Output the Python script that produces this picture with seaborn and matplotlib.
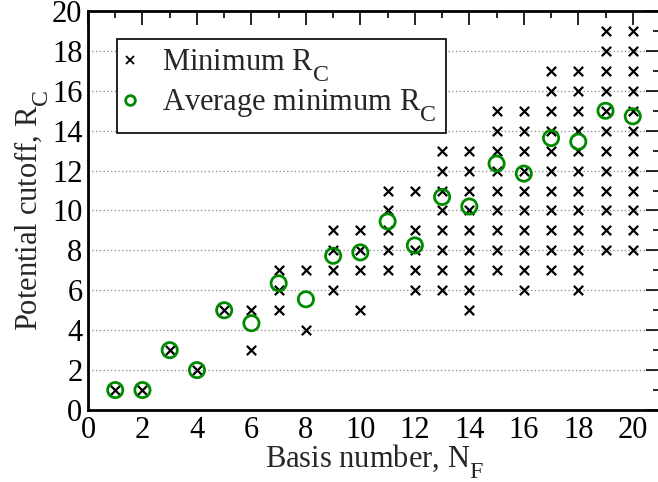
import matplotlib
matplotlib.use("Agg")
import matplotlib.pyplot as plt
import matplotlib._mathtext as _mt
import seaborn as sns
import pandas as pd
from matplotlib.ticker import MultipleLocator
from matplotlib.lines import Line2D

# Data
basis_n = list(range(1, 21))
min_rc = [
    [1], [1], [3], [2], [5],
    [3, 5], [5, 6, 7], [4, 7], [6, 7, 8, 9], [5, 7, 8, 9],
    [7, 8, 9, 10, 11], [6, 7, 8, 9, 11], [6, 7, 8, 9, 10, 11, 12, 13],
    [5, 6, 7, 8, 9, 10, 11, 12, 13], [7, 8, 9, 10, 11, 12, 13, 14, 15],
    [6, 7, 8, 9, 10, 11, 12, 13, 14, 15], [7, 8, 9, 10, 11, 12, 13, 14, 15, 16, 17],
    [6, 7, 8, 9, 10, 11, 12, 13, 14, 15, 16, 17],
    [8, 9, 10, 11, 12, 13, 14, 15, 16, 17, 18, 19],
    [8, 9, 10, 11, 12, 13, 14, 15, 16, 17, 18, 19],
]
avg_rc = [1.0, 1.0, 3.0, 2.0, 5.0, 4.35, 6.35, 5.55, 7.73, 7.9,
          9.45, 8.25, 10.68, 10.2, 12.35, 11.85, 13.63, 13.45, 15.0, 14.72]

# Larger, lower subscripts (closer to the reference typography)
try:
    _mt.SHRINK_FACTOR = 0.78
    _mt.FontConstantsBase.sub1 = 0.75
    _mt.FontConstantsBase.subdrop = 0.6
except Exception:
    pass

sns.set_theme(style="white")
plt.rcParams["font.family"] = ["Liberation Serif", "DejaVu Serif"]
plt.rcParams["mathtext.fontset"] = "custom"
plt.rcParams["mathtext.rm"] = "Liberation Serif"
plt.rcParams["mathtext.it"] = "Liberation Serif:italic"

rows = [(n, r) for n, rs in zip(basis_n, min_rc) for r in rs]
df_min = pd.DataFrame(rows, columns=["N", "R"])
df_avg = pd.DataFrame({"N": basis_n, "R": avg_rc})

fig = plt.figure(figsize=(6.58, 4.82), dpi=100)
ax = fig.add_axes([88 / 658, 1 - 410 / 482, (660 - 88) / 658, 399 / 482])

for y in range(2, 20, 2):
    ax.axhline(y, color="#888888", lw=0.9, ls=(0, (1, 2)), zorder=0)

sns.scatterplot(data=df_min, x="N", y="R", marker="x", color="black",
                s=45, linewidth=1.6, ax=ax, zorder=3, legend=False)
sns.scatterplot(data=df_avg, x="N", y="R", marker="o", facecolor="none",
                edgecolor="#008a00", s=120, linewidth=2.0, ax=ax, zorder=4, legend=False)

ax.set_xlim(0, 21)
ax.set_ylim(0, 20)
ax.xaxis.set_major_locator(MultipleLocator(2))
ax.xaxis.set_minor_locator(MultipleLocator(1))
ax.yaxis.set_major_locator(MultipleLocator(2))
ax.yaxis.set_minor_locator(MultipleLocator(1))
ax.tick_params(which="both", direction="in", top=True, right=True,
               colors="black", labelsize=22, width=1.2, pad=4)
ax.tick_params(which="major", length=10)
ax.tick_params(which="minor", length=5)
for sp in ax.spines.values():
    sp.set_color("black")
    sp.set_linewidth(2)

ax.set_xlabel(r"Basis number, N$_{\rm F}$", fontsize=22, labelpad=-1)
ax.set_ylabel(r"Potential cutoff, R$_{\rm C}$", fontsize=22, labelpad=1)

handles = [
    Line2D([], [], marker="x", ls="none", color="black", markersize=6, markeredgewidth=1.3),
    Line2D([], [], marker="o", ls="none", markerfacecolor="none",
           markeredgecolor="#008a00", markersize=7, markeredgewidth=2),
]
leg = ax.legend(handles, [r"Minimum R$_{\rm C}$", r"Average minimum R$_{\rm C}$"],
                loc="upper left", bbox_to_anchor=(0.05, 0.93), fontsize=22,
                frameon=True, fancybox=False, framealpha=1, edgecolor="black",
                handlelength=0.3, handletextpad=0.9, borderpad=0.3,
                labelspacing=0.1, borderaxespad=0)
leg.get_frame().set_linewidth(1.2)

fig.savefig("out.png", dpi=100)
